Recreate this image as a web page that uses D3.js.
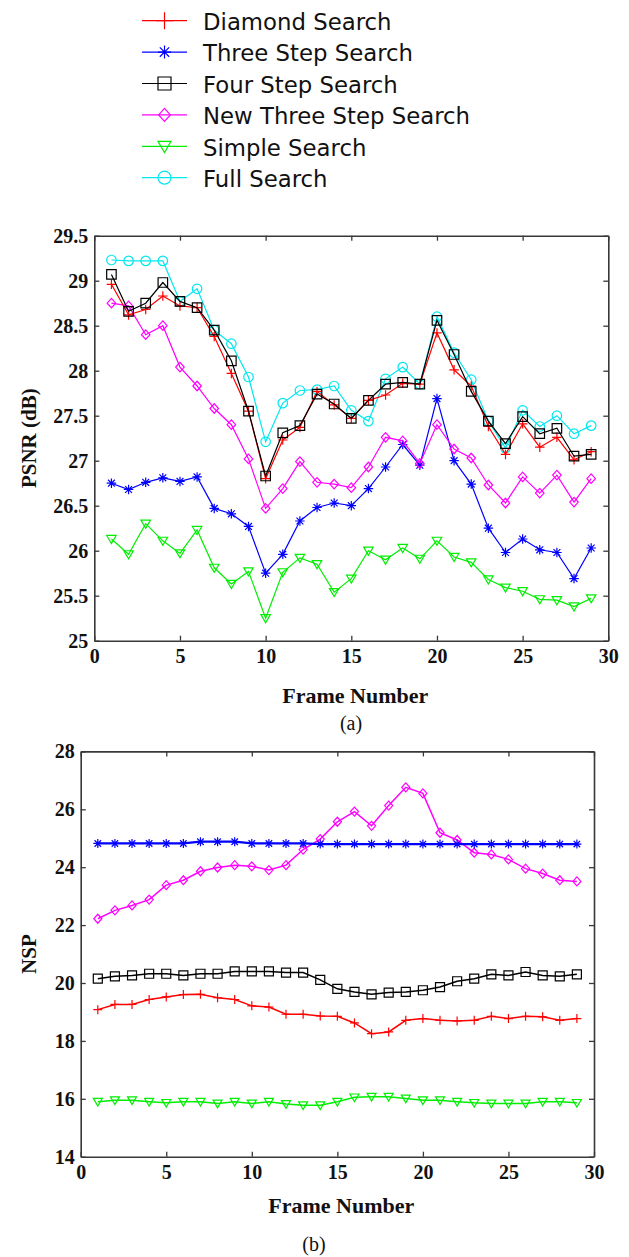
<!DOCTYPE html>
<html>
<head>
<meta charset="utf-8">
<script src="https://cdn.jsdelivr.net/npm/d3@7"></script>
<style>
  body { margin: 0; background: #fff; }
  svg { display: block; }
</style>
</head>
<body>
<div id="chart"></div>
<script>
// Series names, colours and markers, in legend order
var seriesNames = ["Diamond Search", "Three Step Search", "Four Step Search",
  "New Three Step Search", "Simple Search", "Full Search"];
var seriesColors = ["#ff0000", "#0000ff", "#000000", "#ff00ff", "#00ee00", "#00e8f0"];
var seriesMarkers = ["plus", "star", "square", "diamond", "triangle", "circle"];

var frames = d3.range(1, 30); // 1..29

// (a) PSNR (dB) per frame
var psnrDiamond = [28.96, 28.62, 28.68, 28.83, 28.72, 28.70, 28.38, 27.97, 27.55, 26.80,
  27.23, 27.37, 27.77, 27.62, 27.47, 27.67, 27.73, 27.86, 27.85, 28.42,
  28.01, 27.83, 27.38, 27.07, 27.41, 27.15, 27.26, 27.01, 27.10];
var psnrThreeStep = [26.75, 26.68, 26.76, 26.81, 26.77, 26.82, 26.47, 26.41, 26.27, 25.75,
  25.96, 26.33, 26.48, 26.53, 26.50, 26.69, 26.93, 27.18, 26.95, 27.69,
  27.00, 26.74, 26.25, 25.98, 26.13, 26.01, 25.98, 25.69, 26.03];
var psnrFourStep = [29.07, 28.66, 28.75, 28.98, 28.77, 28.70, 28.45, 28.11, 27.55, 26.83,
  27.31, 27.39, 27.74, 27.63, 27.47, 27.67, 27.85, 27.87, 27.85, 28.56,
  28.18, 27.77, 27.44, 27.19, 27.49, 27.30, 27.36, 27.05, 27.07];
var psnrNewThreeStep = [28.75, 28.72, 28.40, 28.50, 28.04, 27.83, 27.58, 27.40, 27.02, 26.47,
  26.69, 26.99, 26.76, 26.74, 26.70, 26.93, 27.26, 27.22, 26.97, 27.40,
  27.13, 27.03, 26.73, 26.53, 26.82, 26.64, 26.84, 26.54, 26.80];
var psnrSimple = [26.13, 25.96, 26.30, 26.11, 25.97, 26.23, 25.81, 25.63, 25.77, 25.25,
  25.76, 25.92, 25.85, 25.54, 25.69, 26.00, 25.90, 26.03, 25.91, 26.11,
  25.93, 25.87, 25.68, 25.59, 25.55, 25.46, 25.45, 25.38, 25.47];
var psnrFull = [29.23, 29.22, 29.22, 29.22, 28.77, 28.91, 28.45, 28.30, 27.93, 27.21,
  27.64, 27.78, 27.79, 27.83, 27.56, 27.44, 27.91, 28.04, 27.85, 28.60,
  28.20, 27.90, 27.44, 27.14, 27.56, 27.38, 27.50, 27.30, 27.39];

// (b) NSP per frame (no Full Search curve)
var nspDiamond = [19.08, 19.26, 19.26, 19.43, 19.52, 19.60, 19.61, 19.49, 19.43, 19.21,
  19.17, 18.92, 18.92, 18.86, 18.85, 18.62, 18.25, 18.31, 18.71, 18.77,
  18.71, 18.69, 18.71, 18.85, 18.77, 18.85, 18.83, 18.71, 18.77];
var nspThreeStep = [24.82, 24.82, 24.82, 24.82, 24.82, 24.82, 24.88, 24.88, 24.88, 24.82,
  24.82, 24.82, 24.82, 24.80, 24.80, 24.80, 24.80, 24.80, 24.80, 24.80,
  24.80, 24.80, 24.80, 24.80, 24.80, 24.80, 24.80, 24.80, 24.80];
var nspFourStep = [20.15, 20.23, 20.26, 20.32, 20.32, 20.26, 20.32, 20.32, 20.40, 20.40,
  20.40, 20.36, 20.36, 20.11, 19.80, 19.69, 19.61, 19.67, 19.69, 19.75,
  19.86, 20.06, 20.15, 20.30, 20.26, 20.38, 20.26, 20.23, 20.30];
var nspNewThreeStep = [22.22, 22.51, 22.68, 22.88, 23.38, 23.55, 23.86, 23.99, 24.07, 24.03,
  23.90, 24.07, 24.61, 24.97, 25.57, 25.92, 25.43, 26.13, 26.76, 26.55,
  25.19, 24.94, 24.50, 24.44, 24.27, 23.95, 23.78, 23.55, 23.51];
var nspSimple = [15.90, 15.95, 15.95, 15.90, 15.86, 15.90, 15.90, 15.84, 15.90, 15.84,
  15.90, 15.82, 15.78, 15.78, 15.90, 16.05, 16.07, 16.07, 16.01, 15.95,
  15.95, 15.90, 15.86, 15.84, 15.84, 15.84, 15.90, 15.90, 15.86];

// Tick labels
var frameTicks = [0, 5, 10, 15, 20, 25, 30];
var psnrTicks = [25, 25.5, 26, 26.5, 27, 27.5, 28, 28.5, 29, 29.5];
var nspTicks = [14, 16, 18, 20, 22, 24, 26, 28];

var width = 629, height = 1257;
var axisColor = "#383838";
var serif = "'Liberation Serif', 'Times New Roman', serif";

var svg = d3.select("#chart").append("svg")
  .attr("width", width)
  .attr("height", height);

/** marker shapes, s = full size in px **/
function markerPath(type, s) {
  var h = s / 2, d = h * 0.72;
  switch (type) {
    case "plus":
      return "M" + (-h) + ",0H" + h + "M0," + (-h) + "V" + h;
    case "star":
      return "M" + (-h) + ",0H" + h + "M0," + (-h) + "V" + h +
        "M" + (-d) + "," + (-d) + "L" + d + "," + d +
        "M" + (-d) + "," + d + "L" + d + "," + (-d);
    case "square":
      return "M" + (-h) + "," + (-h) + "H" + h + "V" + h + "H" + (-h) + "Z";
    case "diamond":
      return "M0," + (-h) + "L" + (h * 0.9) + ",0L0," + h + "L" + (-h * 0.9) + ",0Z";
    case "triangle":
      return "M" + (-h) + "," + (-h * 0.75) + "H" + h + "L0," + (h * 0.95) + "Z";
    case "circle":
      return "M" + h + ",0A" + h + "," + h + " 0 1,1 " + (-h) + ",0A" + h + "," + h + " 0 1,1 " + h + ",0";
  }
}

/** Legend **/
var legend = svg.append("g").attr("id", "legend");
seriesNames.forEach(function(name, i) {
  var base = 30 + i * 31.4;
  var g = legend.append("g");
  g.append("line")
    .attr("x1", 142).attr("x2", 187)
    .attr("y1", base - 9.3).attr("y2", base - 9.3)
    .attr("stroke", seriesColors[i]).attr("stroke-width", 1.2);
  g.append("path")
    .attr("transform", "translate(164.5," + (base - 9.3) + ")")
    .attr("d", markerPath(seriesMarkers[i], i === 0 ? 17 : 13))
    .attr("fill", "none")
    .attr("stroke", seriesColors[i])
    .attr("stroke-width", 1.2);
  g.append("text")
    .attr("x", 203).attr("y", base)
    .attr("font-family", "'DejaVu Sans', sans-serif")
    .attr("font-size", 22.8)
    .attr("fill", "#111")
    .text(name);
});

/** One panel: box, ticks, labels, lines and markers **/
function drawPanel(opts) {
  var x = d3.scaleLinear().domain([0, 30]).range([opts.left, opts.right]);
  var y = d3.scaleLinear().domain(opts.yDomain).range([opts.bottom, opts.top]);
  var g = svg.append("g").attr("id", opts.id);

  var axes = [
    d3.axisBottom(x).tickValues(frameTicks).tickSize(-5).tickSizeOuter(0).tickPadding(8)
      .tickFormat(function(d) { return d; }),
    d3.axisTop(x).tickValues(frameTicks).tickSize(-5).tickSizeOuter(0).tickFormat(""),
    d3.axisLeft(y).tickValues(opts.yTicks).tickSize(-5).tickSizeOuter(0).tickPadding(6)
      .tickFormat(function(d) { return d; }),
    d3.axisRight(y).tickValues(opts.yTicks).tickSize(-5).tickSizeOuter(0).tickFormat("")
  ];
  var shifts = ["0," + opts.bottom, "0," + opts.top, opts.left + ",0", opts.right + ",0"];

  axes.forEach(function(ax, i) {
    var a = g.append("g")
      .attr("transform", "translate(" + shifts[i] + ")")
      .call(ax);
    a.select(".domain").attr("stroke", axisColor).attr("stroke-width", 1.6);
    a.selectAll(".tick line").attr("stroke", axisColor).attr("stroke-width", 1.3);
    a.selectAll(".tick text")
      .attr("font-family", serif)
      .attr("font-weight", "bold")
      .attr("font-size", 20)
      .attr("fill", "#111");
  });

  var line = d3.line()
    .x(function(d, i) { return x(frames[i]); })
    .y(function(d) { return y(d); });

  opts.series.forEach(function(s) {
    var k = s.idx;
    g.append("path")
      .datum(s.values)
      .attr("d", line)
      .attr("fill", "none")
      .attr("stroke", seriesColors[k])
      .attr("stroke-width", s.width || opts.lineWidth);
    g.selectAll(null)
      .data(s.values)
      .enter().append("path")
      .attr("transform", function(d, i) { return "translate(" + x(frames[i]) + "," + y(d) + ")"; })
      .attr("d", markerPath(seriesMarkers[k], opts.markerSize))
      .attr("fill", "none")
      .attr("stroke", seriesColors[k])
      .attr("stroke-width", 1.2);
  });

  // Axis titles
  g.append("text")
    .attr("x", (opts.left + opts.right) / 2 + 4)
    .attr("y", opts.xTitleY)
    .attr("text-anchor", "middle")
    .attr("font-family", serif).attr("font-weight", "bold").attr("font-size", 22)
    .attr("fill", "#111")
    .text("Frame Number");
  g.append("text")
    .attr("transform", "translate(36," + ((opts.top + opts.bottom) / 2) + ") rotate(-90)")
    .attr("text-anchor", "middle")
    .attr("font-family", serif).attr("font-weight", "bold").attr("font-size", 21)
    .attr("fill", "#111")
    .text(opts.yTitle);
  g.append("text")
    .attr("x", opts.captionX)
    .attr("y", opts.captionY)
    .attr("text-anchor", "middle")
    .attr("font-family", serif).attr("font-size", 20)
    .attr("fill", "#111")
    .text(opts.caption);
}

// Draw order as in the figure (full search under the others)
drawPanel({
  id: "psnr",
  left: 94.3, right: 608.3, top: 235.7, bottom: 640.7,
  yDomain: [25, 29.5], yTicks: psnrTicks,
  yTitle: "PSNR (dB)", xTitleY: 703, caption: "(a)", captionX: 351, captionY: 730,
  lineWidth: 1.2, markerSize: 9.5,
  series: [
    { idx: 5, values: psnrFull },
    { idx: 4, values: psnrSimple },
    { idx: 1, values: psnrThreeStep },
    { idx: 3, values: psnrNewThreeStep },
    { idx: 0, values: psnrDiamond },
    { idx: 2, values: psnrFourStep }
  ]
});

drawPanel({
  id: "nsp",
  left: 80.7, right: 594, top: 751.4, bottom: 1156.7,
  yDomain: [14, 28], yTicks: nspTicks,
  yTitle: "NSP", xTitleY: 1213, caption: "(b)", captionX: 314, captionY: 1251,
  lineWidth: 1.5, markerSize: 9,
  series: [
    { idx: 4, values: nspSimple },
    { idx: 0, values: nspDiamond },
    { idx: 2, values: nspFourStep },
    { idx: 3, values: nspNewThreeStep },
    { idx: 1, values: nspThreeStep, width: 2.2 }
  ]
});
</script>
</body>
</html>
